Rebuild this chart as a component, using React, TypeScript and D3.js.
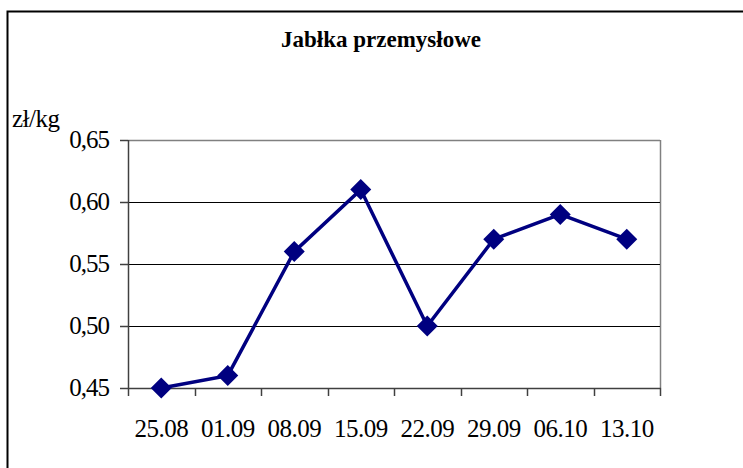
import React from "react";
import * as d3 from "d3";

const categories = ["25.08", "01.09", "08.09", "15.09", "22.09", "29.09", "06.10", "13.10"];
const values = [0.45, 0.46, 0.56, 0.61, 0.5, 0.57, 0.59, 0.57];
const yTicks = [0.45, 0.5, 0.55, 0.6, 0.65];
const title = "Jabłka przemysłowe";
const unit = "zł/kg";

export default function App() {
  const W = 743, H = 468;
  const left = 128, right = 660, top = 140, bottom = 388;
  const x = d3.scaleBand<string>().domain(categories).range([left, right]);
  const y = d3.scaleLinear().domain([0.45, 0.65]).range([bottom, top]);
  const line = d3
    .line<number>()
    .x((_, i) => (x(categories[i]) as number) + x.bandwidth() / 2)
    .y((d) => y(d));
  const fmt = (v: number) => v.toFixed(2).replace(".", ",");
  const font = '"Liberation Serif", "Times New Roman", serif';
  const r = 10.5;
  return (
    <svg
      width={W}
      height={H}
      fontFamily={font}
      style={{ position: "absolute", left: 0, top: 0, background: "#fff", fontFamily: font }}
    >
      <rect x={0} y={0} width={W} height={H} fill="#fff" />
      <rect x={7.5} y={11.5} width={W + 20} height={H + 20} fill="none" stroke="#000" strokeWidth={2} />
      <text x={381} y={47} textAnchor="middle" fontWeight="bold" fontSize={23} fill="#000">
        {title}
      </text>
      <text x={12} y={127} fontSize={25} fill="#000" letterSpacing={-0.5}>
        {unit}
      </text>
      <line x1={left} x2={right} y1={top + 0.5} y2={top + 0.5} stroke="#808080" strokeWidth={1.5} />
      <line x1={right + 0.5} x2={right + 0.5} y1={top} y2={bottom} stroke="#808080" strokeWidth={1.5} />
      {yTicks
        .filter((t) => t > 0.45 && t < 0.65)
        .map((t) => (
          <line key={t} x1={left} x2={right} y1={Math.round(y(t)) + 0.5} y2={Math.round(y(t)) + 0.5} stroke="#000" strokeWidth={1} />
        ))}
      <line x1={left + 0.5} x2={left + 0.5} y1={top} y2={bottom + 1} stroke="#404040" strokeWidth={1.5} />
      {yTicks.map((t) => (
        <g key={t}>
          <line x1={left - 8} x2={left} y1={Math.round(y(t)) + 0.5} y2={Math.round(y(t)) + 0.5} stroke="#404040" strokeWidth={1.5} />
          <text x={109} y={y(t) + 8} textAnchor="end" fontSize={25} fill="#000" letterSpacing={-1}>
            {fmt(t)}
          </text>
        </g>
      ))}
      <line x1={left} x2={right + 1} y1={bottom + 0.5} y2={bottom + 0.5} stroke="#404040" strokeWidth={1.5} />
      {categories.concat(["end"]).map((c, i) => {
        const xx = Math.round(left + i * x.step()) + 0.5;
        return <line key={c} x1={xx} x2={xx} y1={bottom} y2={bottom + 8} stroke="#404040" strokeWidth={1.5} />;
      })}
      {categories.map((c) => (
        <text
          key={c}
          x={(x(c) as number) + x.bandwidth() / 2}
          y={437}
          textAnchor="middle"
          fontSize={25}
          fill="#000"
          letterSpacing={-0.5}
        >
          {c}
        </text>
      ))}
      <path d={line(values) || ""} fill="none" stroke="#000080" strokeWidth={3.5} />
      {values.map((v, i) => {
        const cx = (x(categories[i]) as number) + x.bandwidth() / 2;
        const cy = y(v);
        return (
          <path
            key={i}
            d={`M${cx},${cy - r}L${cx + r},${cy}L${cx},${cy + r}L${cx - r},${cy}Z`}
            fill="#000080"
          />
        );
      })}
    </svg>
  );
}
